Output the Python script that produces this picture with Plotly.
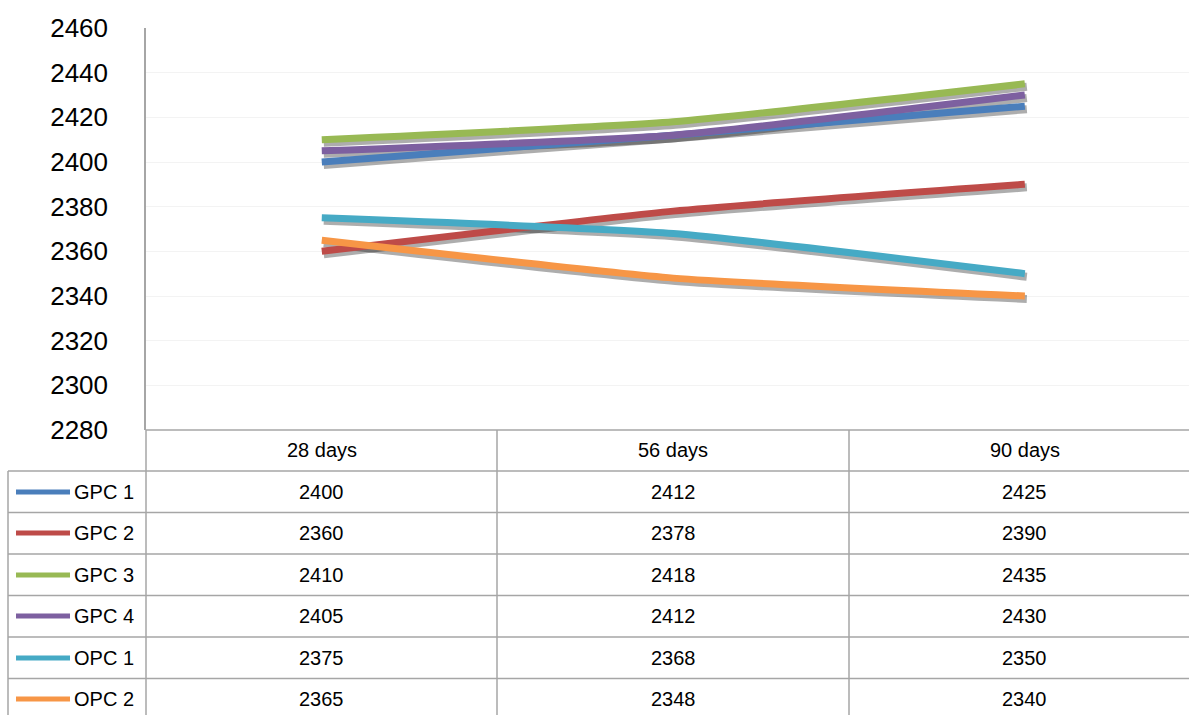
import plotly.graph_objects as go

categories = ["28 days", "56 days", "90 days"]
series_names = ["GPC 1", "GPC 2", "GPC 3", "GPC 4", "OPC 1", "OPC 2"]
gpc1 = [2400, 2412, 2425]
gpc2 = [2360, 2378, 2390]
gpc3 = [2410, 2418, 2435]
gpc4 = [2405, 2412, 2430]
opc1 = [2375, 2368, 2350]
opc2 = [2365, 2348, 2340]
series_values = [gpc1, gpc2, gpc3, gpc4, opc1, opc2]
colors = ["#4a7ebb", "#be4b48", "#98b954", "#7d60a0", "#46aac5", "#f79646"]
y_ticks = [2280, 2300, 2320, 2340, 2360, 2380, 2400, 2420, 2440, 2460]

W, H = 1189, 715
L, R, T, B = 146, 1189, 28, 430
PW, PH = R - L, B - T
FONT = "Liberation Sans"

def px_x(px):
    return (px - L) / PW

def px_y(py):
    return (B - py) / PH

xr = [-0.5, 2.467]
yr = [2280, 2460]
units_per_px_y = (yr[1] - yr[0]) / PH
units_per_px_x = (xr[1] - xr[0]) / PW
dx_px, dy_px = 2, 3

fig = go.Figure()

# shadows on base axes (shifted range)
for vals in series_values:
    fig.add_trace(go.Scatter(
        x=list(range(len(categories))), y=vals, mode="lines",
        line=dict(color="rgba(0,0,0,0.32)", width=8, shape="spline", smoothing=0.5),
        xaxis="x", yaxis="y", hoverinfo="skip", showlegend=False))

for name, vals, c in zip(series_names, series_values, colors):
    fig.add_trace(go.Scatter(
        x=list(range(len(categories))), y=vals, mode="lines", name=name,
        line=dict(color=c, width=7, shape="spline", smoothing=0.5),
        xaxis="x2", yaxis="y2", showlegend=False))

shapes = []
grey = "#a6a6a6"
row_lines = [430, 471, 512.5, 554, 595.5, 637, 678.5, 720]
for i, py in enumerate(row_lines):
    x0 = 146 if i == 0 else 8
    shapes.append(dict(type="line", xref="paper", yref="paper",
                       x0=px_x(x0), x1=px_x(1189), y0=px_y(py), y1=px_y(py),
                       line=dict(color=grey, width=1.5)))
for pxv, top in [(8, 471), (146, 430), (497, 430), (849, 430)]:
    shapes.append(dict(type="line", xref="paper", yref="paper",
                       x0=px_x(pxv), x1=px_x(pxv), y0=px_y(top), y1=px_y(720),
                       line=dict(color=grey, width=1.5)))

annotations = []
row_centers = [492, 533, 575, 616, 658, 699]
for i, cat in enumerate(categories):
    annotations.append(dict(x=i, y=px_y(450), xref="x2", yref="paper", text=cat,
                            showarrow=False, xanchor="center", yanchor="middle",
                            font=dict(family=FONT, size=20, color="#000")))
for name, vals, c, py in zip(series_names, series_values, colors, row_centers):
    shapes.append(dict(type="line", xref="paper", yref="paper",
                       x0=px_x(16), x1=px_x(70), y0=px_y(py), y1=px_y(py),
                       line=dict(color=c, width=5)))
    annotations.append(dict(x=px_x(72), y=px_y(py), xref="paper", yref="paper", text=name,
                            showarrow=False, xanchor="left", yanchor="middle",
                            font=dict(family=FONT, size=20, color="#000")))
    for i, v in enumerate(vals):
        annotations.append(dict(x=i, y=px_y(py), xref="x2", yref="paper", text=str(v),
                                showarrow=False, xanchor="center", yanchor="middle",
                                font=dict(family=FONT, size=20, color="#000")))

fig.update_layout(
    width=W, height=H,
    margin=dict(l=L, r=W - R, t=T, b=H - B, pad=0),
    paper_bgcolor="white", plot_bgcolor="white",
    showlegend=False,
    xaxis=dict(range=[xr[0] - dx_px * units_per_px_x, xr[1] - dx_px * units_per_px_x],
               visible=False, fixedrange=True),
    yaxis=dict(range=[yr[0] + dy_px * units_per_px_y, yr[1] + dy_px * units_per_px_y],
               visible=False, fixedrange=True),
    xaxis2=dict(range=xr, overlaying="x", showticklabels=False, showgrid=False,
                zeroline=False, showline=False, ticks=""),
    yaxis2=dict(range=yr, overlaying="y", side="left", tickmode="array", tickvals=y_ticks,
                ticktext=[str(t) for t in y_ticks], showgrid=True, gridcolor="#f3f3f3",
                gridwidth=1, zeroline=False, showline=True, linecolor=grey, linewidth=1.5,
                ticks="", ticklabelstandoff=31,
                tickfont=dict(family=FONT, size=26, color="#000")),
    shapes=shapes,
    annotations=annotations,
)

fig.write_html("out.html", config={"displayModeBar": False},
               post_script="document.body.style.margin='0px';document.body.style.overflow='hidden';")
